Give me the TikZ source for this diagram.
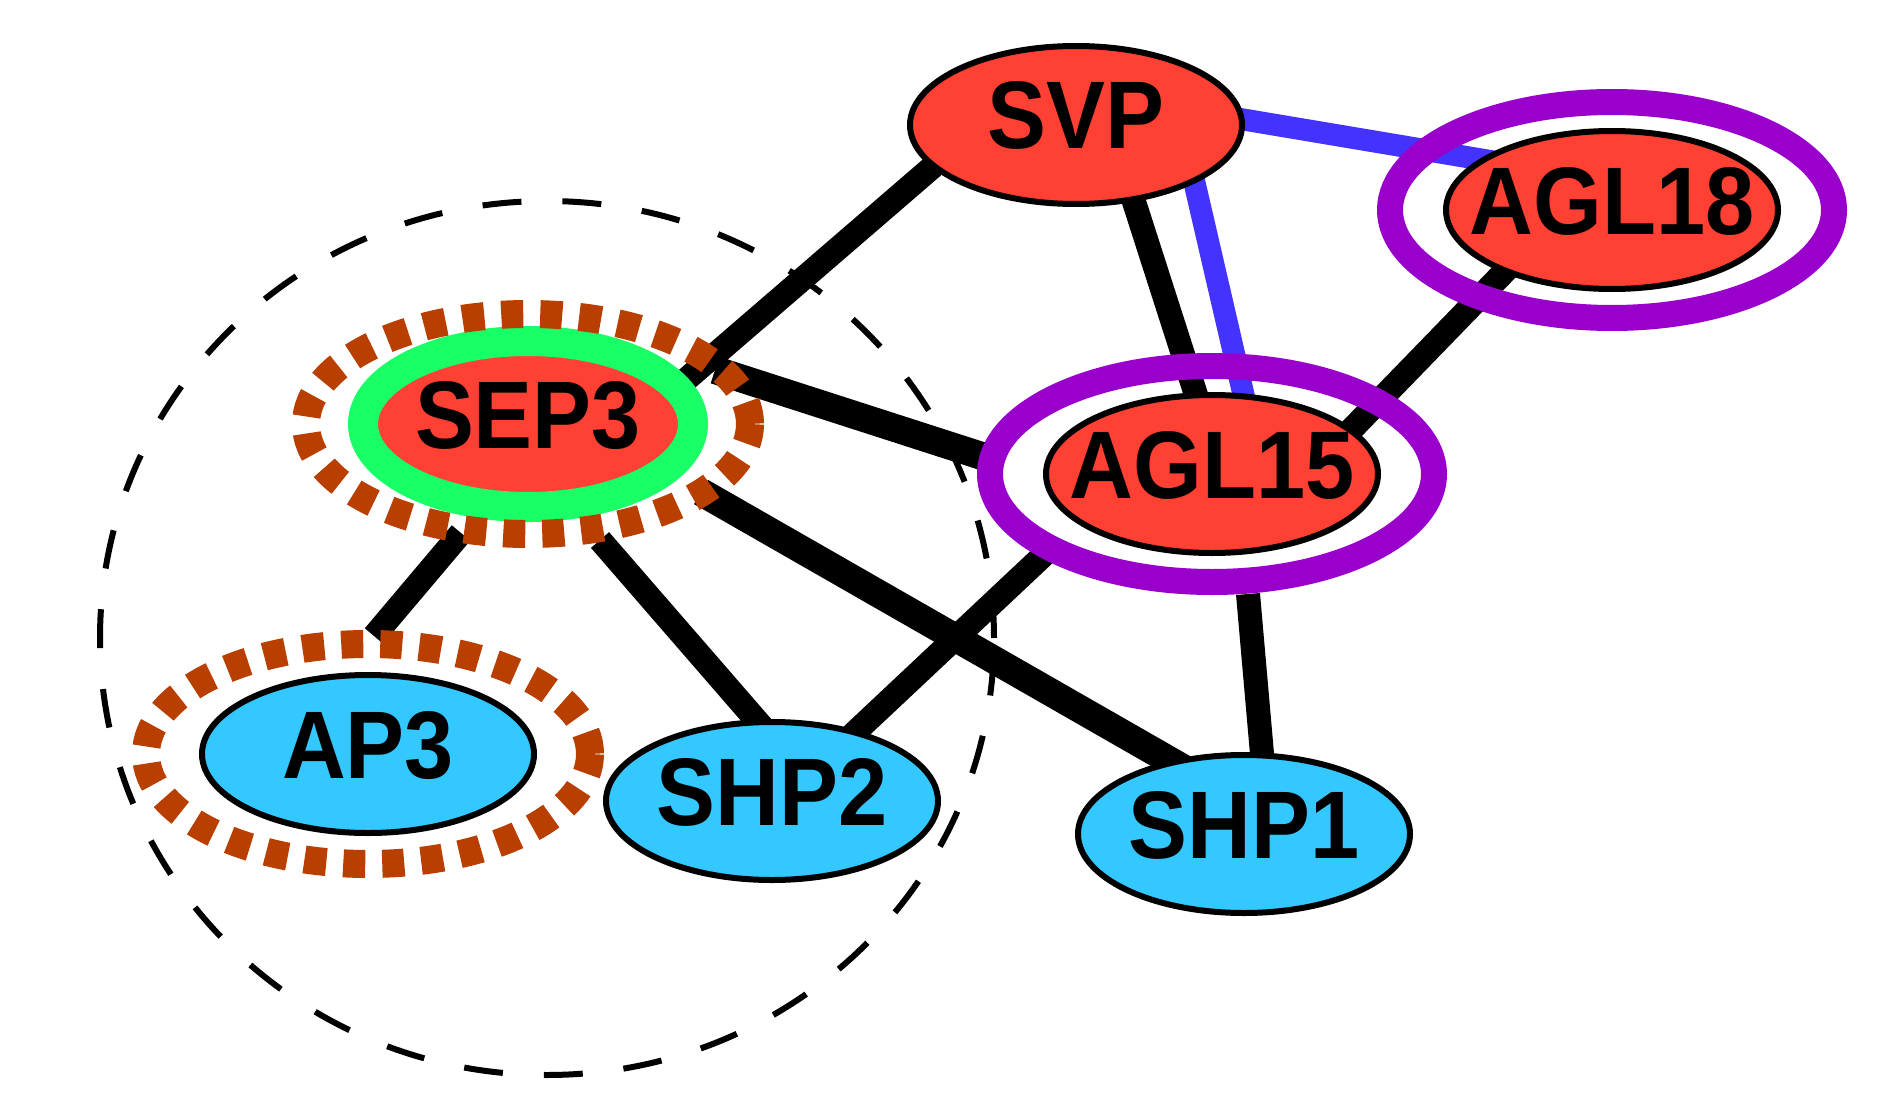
\documentclass[tikz,border=0pt]{standalone}
\usepackage{fontspec}
\setmainfont{Liberation Sans}
\usetikzlibrary{shapes.geometric,backgrounds,calc}
\definecolor{nodered}{HTML}{FF4032}
\definecolor{nodeblue}{HTML}{33C8FF}
\definecolor{ringgreen}{HTML}{19FF66}
\definecolor{ringbrown}{HTML}{B83F00}
\definecolor{ringpurple}{HTML}{9A00CC}
\definecolor{edgeblue}{HTML}{4433FF}
\newcommand{\genefont}{\fontsize{96}{96}\selectfont\bfseries}
\newcommand{\genelabel}[1]{\makebox[0pt]{\smash{\raisebox{-24pt}{\scalebox{0.92}[1]{#1}}}}}
\begin{document}
\begin{tikzpicture}[x=1pt,y=-1pt,
  gene/.style={ellipse, minimum width=332pt, minimum height=158pt, inner sep=0pt, draw=black, line width=6pt, font=\genefont},
  redn/.style={gene, fill=nodered},
  bluen/.style={gene, fill=nodeblue},
  greenn/.style={gene, fill=nodered, draw=ringgreen, line width=30pt, minimum width=330pt, minimum height=166pt},
  purplering/.style={ellipse, draw=ringpurple, line width=26pt, minimum width=444pt, minimum height=216pt, inner sep=0pt, outer sep=0pt},
  brownring/.style={ellipse, draw=ringbrown, line width=28pt, dash pattern=on 22pt off 17pt, minimum width=444pt, minimum height=220pt, inner sep=0pt, outer sep=0pt},
  groupring/.style={ellipse, draw=black, line width=6pt, dash pattern=on 39pt off 41pt, minimum width=894pt, minimum height=874pt, inner sep=0pt},
  blackedge/.style={draw=black, line width=24pt},
  thickedge/.style={draw=black, line width=28pt},
  blueedge/.style={draw=edgeblue, line width=22pt}]
\useasboundingbox (0,0) rectangle (1887,1113);
\node[redn] (svp) at (1076,125) {\genelabel{SVP}};
\node[redn] (agl18) at (1612,210) {\genelabel{AGL18}};
\node[purplering] (agl18r) at (agl18) {};
\node[redn] (agl15) at (1212,474) {\genelabel{AGL15}};
\node[purplering] (agl15r) at (agl15) {};
\node[greenn] (sep3) at (528,424) {\genelabel{SEP3}};
\node[brownring] (sep3r) at (sep3) {};
\node[bluen] (ap3) at (368,754) {\genelabel{AP3}};
\node[brownring] (ap3r) at (ap3) {};
\node[bluen] (shp2) at (772,801) {\genelabel{SHP2}};
\node[bluen] (shp1) at (1244,834) {\genelabel{SHP1}};
\begin{scope}[on background layer]
  \node[groupring] (grp) at (547,638) {};
  \draw[blackedge] ($(svp)+(-88,-6)$) -- ($(sep3)+(146,-34)$);
  \draw[blackedge] ($(svp)+(42,27)$) -- ($(agl15)+(-6,-48)$);
  \draw[blueedge] ($(svp)+(107,8)$) -- ($(agl15)+(39,-47)$);
  \draw[blueedge] ($(svp)+(99,-17)$) -- ($(agl18)+(-80,-42)$);
  \draw[blackedge] ($(agl18)+(-69,22)$) -- ($(agl15)+(105,-9)$);
  \draw[thickedge] ($(sep3)+(187,-54)$) -- ($(agl15)+(-224,-16)$);
  \draw[blackedge] ($(sep3)+(-67,109)$) -- ($(ap3)+(6,-118)$);
  \draw[blackedge] ($(sep3)+(72,116)$) -- ($(shp2)+(5,-57)$);
  \draw[thickedge] ($(sep3)+(173,68)$) -- ($(shp1)+(-42,-55)$);
  \draw[blackedge] ($(agl15)+(-164,77)$) -- ($(shp2)+(60,-47)$);
  \draw[blackedge] ($(agl15)+(36,120)$) -- ($(shp1)+(21,-46)$);
\end{scope}
\end{tikzpicture}
\end{document}
